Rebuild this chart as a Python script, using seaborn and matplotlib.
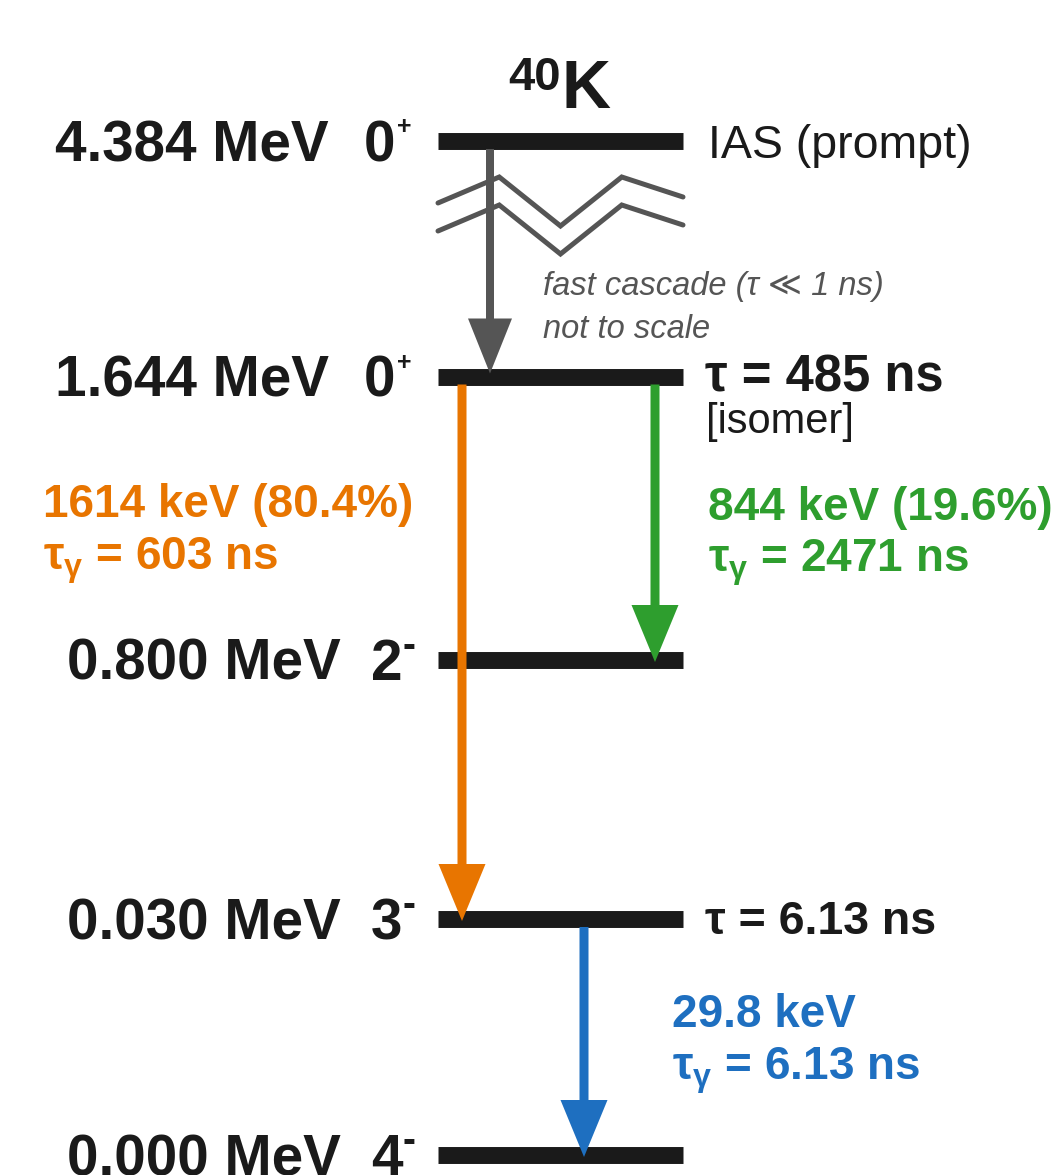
import matplotlib
matplotlib.use("Agg")
import matplotlib.pyplot as plt
import numpy as np
import pandas as pd
import seaborn as sns

# ---------------- data ----------------
nuclide_mass = "40"
nuclide_symbol = "K"
level_energy_mev = [4.384, 1.644, 0.800, 0.030, 0.000]
level_spin = ["0", "0", "2", "3", "4"]
level_parity = ["+", "+", "-", "-", "-"]
level_note = ["IAS (prompt)", "τ = 485 ns", "", "τ = 6.13 ns", ""]
level_subnote = ["", "[isomer]", "", "", ""]

gamma_from = [1, 1, 3]
gamma_to = [3, 2, 4]
gamma_energy_kev = ["1614", "844", "29.8"]
gamma_branch_pct = ["80.4", "19.6", None]
gamma_tau_ns = ["603", "2471", "6.13"]
cascade_from, cascade_to = 0, 1
cascade_label = ["fast cascade (τ ≪ 1 ns)", "not to scale"]

# ---------------- layout / style ----------------
W, H = 1062, 1175
row_y = [141, 376.5, 660, 919, 1155]          # schematic level rows (not to scale)
bar_x0, bar_x1 = 438, 683
gamma_x = [462, 655, 584]
cascade_x = 490
gamma_colors = ["#E87500", "#2E9E2E", "#1E6FC0"]
ink = "#1a1a1a"
grey = "#555555"

sns.set_theme(style="white")
plt.rcParams["font.family"] = ["Liberation Sans", "DejaVu Sans"]
plt.rcParams["mathtext.fontset"] = "custom"
plt.rcParams["mathtext.rm"] = "Liberation Sans"
plt.rcParams["mathtext.bf"] = "Liberation Sans:bold"
plt.rcParams["mathtext.it"] = "Liberation Sans:italic"

fig = plt.figure(figsize=(W / 100, H / 100), dpi=100)
ax = fig.add_axes([0, 0, 1, 1])
ax.set_xlim(0, W)
ax.set_ylim(H, 0)

# levels
lev = pd.DataFrame({
    "level": np.repeat(np.arange(len(level_energy_mev)), 2),
    "x": [bar_x0, bar_x1] * len(level_energy_mev),
    "y": np.repeat(row_y, 2),
})
sns.lineplot(data=lev, x="x", y="y", units="level", estimator=None, sort=False,
             color=ink, linewidth=12.2, solid_capstyle="butt", legend=False, ax=ax)
ax.set_xlim(0, W)
ax.set_ylim(H, 0)
ax.axis("off")

# level labels
for i, E in enumerate(level_energy_mev):
    y = row_y[i]
    plus = level_parity[i] == "+"
    xe = 329 if plus else 341
    xs = 364 if plus else 371
    ax.text(xe, y + 20, f"{E:.3f} MeV", ha="right", va="baseline",
            fontsize=40.8, fontweight="bold", color=ink)
    ax.text(xs, y + 20, level_spin[i], ha="left", va="baseline",
            fontsize=40.8, fontweight="bold", color=ink)
    if plus:
        ax.text(xs + 33, y - 7, "+", ha="left", va="baseline", fontsize=18,
                fontweight="bold", color=ink)
    else:
        ax.text(xs + 32, y - 3, "-", ha="left", va="baseline", fontsize=28,
                fontweight="bold", color=ink)

# right notes
ax.text(708, row_y[0] + 17, level_note[0], ha="left", va="baseline", fontsize=33.5, color=ink)
ax.text(705, row_y[1] + 15.5, level_note[1], ha="left", va="baseline", fontsize=36.5,
        fontweight="bold", color=ink)
ax.text(706, row_y[1] + 56, level_subnote[1], ha="left", va="baseline", fontsize=30, color=ink)
ax.text(705, row_y[3] + 15, level_note[3], ha="left", va="baseline", fontsize=33.5,
        fontweight="bold", color=ink)

# title
ax.text(562, 108, nuclide_symbol, ha="left", va="baseline", fontsize=49, fontweight="bold", color=ink)
ax.text(561, 90, nuclide_mass, ha="right", va="baseline", fontsize=34, fontweight="bold", color=ink)

# fast cascade arrow + break mark
half = 8
ax.arrow(cascade_x, row_y[cascade_from] + half, 0,
         row_y[cascade_to] - 3 - (row_y[cascade_from] + half),
         width=8, head_width=44, head_length=55, length_includes_head=True,
         color=grey, linewidth=0, zorder=3)
zig_fx = np.array([0.0, 0.25, 0.5, 0.75, 1.0])
zig_dy = np.array([62, 36, 85, 36, 56])
for off in (0, 28):
    ax.plot(bar_x0 + zig_fx * (bar_x1 - bar_x0), row_y[0] + zig_dy + off,
            color=grey, linewidth=3.6, solid_joinstyle="miter", zorder=4)
ax.text(543, 295, cascade_label[0], ha="left", va="baseline", fontsize=23.5,
        style="italic", color=grey)
ax.text(543, 338, cascade_label[1], ha="left", va="baseline", fontsize=23.5,
        style="italic", color=grey)

# gamma arrows
for k in range(len(gamma_from)):
    y0 = row_y[gamma_from[k]] + half
    y1 = row_y[gamma_to[k]] + 2
    ax.arrow(gamma_x[k], y0, 0, y1 - y0, width=9, head_width=47, head_length=57,
             length_includes_head=True, color=gamma_colors[k], linewidth=0, zorder=3)

# gamma labels
label_pos = [(43, 517), (708, 520), (672, 1027)]
for k in range(len(gamma_from)):
    x, yb = label_pos[k]
    line1 = f"{gamma_energy_kev[k]} keV"
    if gamma_branch_pct[k] is not None:
        line1 += f" ({gamma_branch_pct[k]}%)"
    ax.text(x, yb, line1, ha="left", va="baseline", fontsize=33, fontweight="bold",
            color=gamma_colors[k])
    ax.text(x, yb + 52, r"$\mathbf{τ_{γ}}$ = " + f"{gamma_tau_ns[k]} ns", ha="left",
            va="baseline", fontsize=33, fontweight="bold", color=gamma_colors[k])

fig.savefig("out.png", dpi=100, facecolor="white")
